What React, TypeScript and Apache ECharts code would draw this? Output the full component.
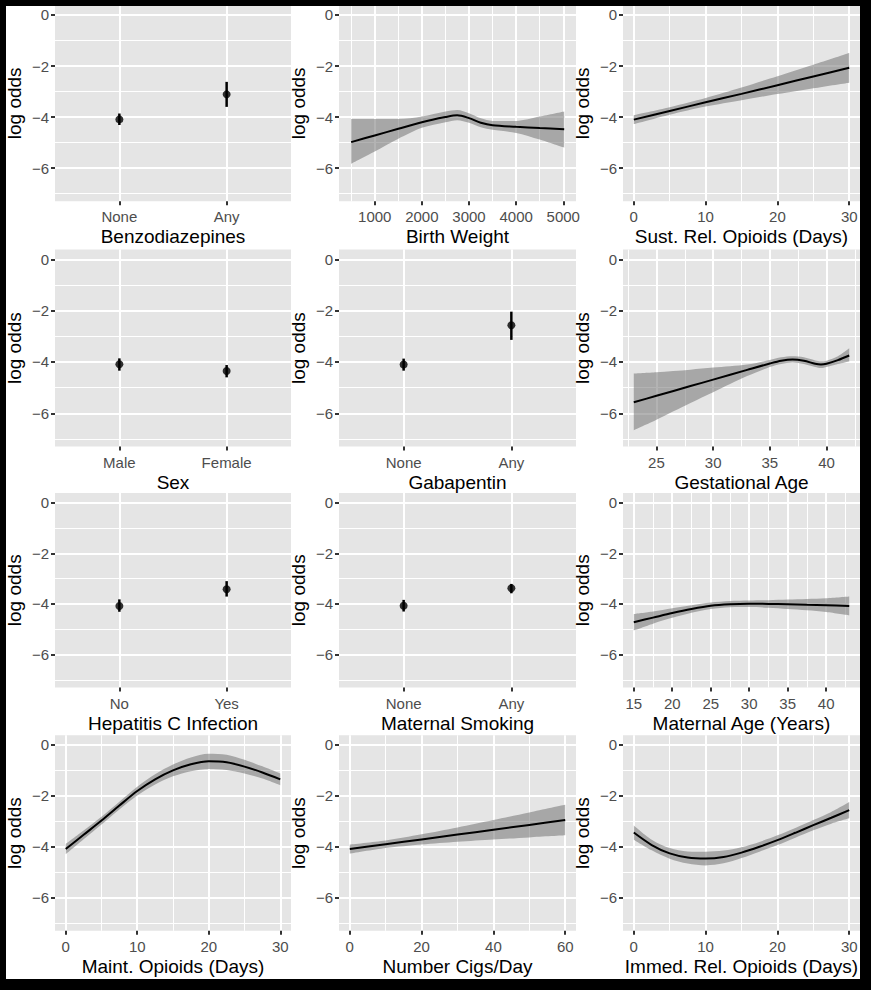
import React, { useEffect, useRef } from "react";
import * as echarts from "echarts";

const FONT = "'Liberation Sans', Arial, Helvetica, sans-serif";

// y scale shared by every panel
const yMajorTicks = [-6, -4, -2, 0];
const yMinorTicks = [-7, -5, -3, -1];
const yMin = -7.3;
const yMax = 0.38;

// ---------- categorical panels ----------
const benzoCats = ["None", "Any"];
const benzoEst = [-4.09, -3.11];
const benzoLo = [-4.31, -3.6];
const benzoHi = [-3.86, -2.62];

const sexCats = ["Male", "Female"];
const sexEst = [-4.09, -4.35];
const sexLo = [-4.34, -4.6];
const sexHi = [-3.86, -4.12];

const gabaCats = ["None", "Any"];
const gabaEst = [-4.1, -2.57];
const gabaLo = [-4.34, -3.14];
const gabaHi = [-3.87, -2.04];

const hepCats = ["No", "Yes"];
const hepEst = [-4.08, -3.42];
const hepLo = [-4.31, -3.71];
const hepHi = [-3.82, -3.1];

const smokeCats = ["None", "Any"];
const smokeEst = [-4.07, -3.38];
const smokeLo = [-4.3, -3.58];
const smokeHi = [-3.84, -3.21];

// ---------- continuous panels ----------
const bwX = [500, 1000, 1500, 2000, 2500, 2750, 3000, 3250, 3500, 4000, 4500, 5020];
const bwFit = [-4.98, -4.72, -4.46, -4.2, -4.0, -3.93, -4.04, -4.22, -4.32, -4.38, -4.43, -4.48];
const bwLo = [-5.83, -5.35, -4.85, -4.42, -4.2, -4.12, -4.22, -4.4, -4.5, -4.62, -4.88, -5.2];
const bwHi = [-4.08, -4.08, -4.08, -3.98, -3.78, -3.72, -3.85, -4.05, -4.15, -4.15, -3.98, -3.78];
const bwMajor = [1000, 2000, 3000, 4000, 5000];
const bwMinor = [500, 1500, 2500, 3500, 4500];

const srX = [0, 5, 10, 15, 20, 25, 30];
const srFit = [-4.1, -3.76, -3.42, -3.09, -2.75, -2.41, -2.07];
const srLo = [-4.28, -3.91, -3.59, -3.34, -3.1, -2.87, -2.65];
const srHi = [-3.92, -3.61, -3.25, -2.84, -2.4, -1.95, -1.49];

const gaX = [23, 25, 28, 30, 33, 35, 36, 37, 38, 39, 39.5, 40, 41, 42];
const gaFit = [-5.57, -5.32, -4.94, -4.69, -4.31, -4.06, -3.95, -3.9, -3.95, -4.07, -4.1, -4.07, -3.93, -3.75];
const gaLo = [-6.66, -6.25, -5.6, -5.18, -4.55, -4.2, -4.08, -4.02, -4.08, -4.2, -4.24, -4.2, -4.08, -3.98];
const gaHi = [-4.45, -4.4, -4.3, -4.22, -4.1, -3.92, -3.82, -3.78, -3.82, -3.94, -3.97, -3.95, -3.78, -3.47];
const gaMajor = [25, 30, 35, 40];
const gaMinor = [22.5, 27.5, 32.5, 37.5, 42.5];

const maX = [15, 17.5, 20, 22.5, 25, 27.5, 30, 32.5, 35, 37.5, 40, 43];
const maFit = [-4.72, -4.54, -4.36, -4.2, -4.07, -4.01, -3.99, -4.0, -4.01, -4.03, -4.05, -4.08];
const maLo = [-5.05, -4.78, -4.55, -4.35, -4.2, -4.13, -4.12, -4.15, -4.2, -4.25, -4.32, -4.45];
const maHi = [-4.4, -4.3, -4.17, -4.05, -3.94, -3.88, -3.86, -3.85, -3.83, -3.81, -3.78, -3.71];
const maMajor = [15, 20, 25, 30, 35, 40];
const maMinor = [17.5, 22.5, 27.5, 32.5, 37.5, 42.5];

const moX = [0, 2.5, 5, 7.5, 10, 12.5, 15, 17.5, 20, 22.5, 25, 27.5, 30];
const moFit = [-4.09, -3.53, -2.97, -2.38, -1.81, -1.35, -1.0, -0.76, -0.64, -0.68, -0.85, -1.08, -1.35];
const moLo = [-4.29, -3.7, -3.12, -2.53, -1.98, -1.55, -1.23, -1.03, -0.94, -0.98, -1.12, -1.32, -1.58];
const moHi = [-3.89, -3.36, -2.82, -2.23, -1.64, -1.15, -0.77, -0.49, -0.34, -0.38, -0.58, -0.84, -1.12];

const cgX = [0, 10, 20, 30, 40, 50, 60];
const cgFit = [-4.09, -3.9, -3.71, -3.52, -3.33, -3.14, -2.95];
const cgLo = [-4.27, -4.05, -3.91, -3.8, -3.71, -3.63, -3.55];
const cgHi = [-3.91, -3.75, -3.51, -3.24, -2.95, -2.65, -2.35];
const cgMajor = [0, 20, 40, 60];
const cgMinor = [10, 30, 50];

const irX = [0, 2.5, 5, 7.5, 10, 12.5, 15, 17.5, 20, 22.5, 25, 27.5, 30];
const irFit = [-3.44, -3.93, -4.26, -4.42, -4.46, -4.4, -4.23, -4.0, -3.74, -3.45, -3.15, -2.86, -2.56];
const irLo = [-3.72, -4.14, -4.47, -4.66, -4.73, -4.65, -4.44, -4.19, -3.93, -3.64, -3.35, -3.09, -2.88];
const irHi = [-3.16, -3.72, -4.05, -4.18, -4.19, -4.15, -4.02, -3.81, -3.55, -3.26, -2.95, -2.63, -2.24];

const daysMajor = [0, 10, 20, 30];
const daysMinor = [5, 15, 25];

type Panel =
  | { kind: "cat"; title: string; cats: string[]; est: number[]; lo: number[]; hi: number[] }
  | {
      kind: "cont";
      title: string;
      x: number[];
      fit: number[];
      lo: number[];
      hi: number[];
      min: number;
      max: number;
      major: number[];
      minor: number[];
    };

const panels: Panel[] = [
  { kind: "cat", title: "Benzodiazepines", cats: benzoCats, est: benzoEst, lo: benzoLo, hi: benzoHi },
  { kind: "cont", title: "Birth Weight", x: bwX, fit: bwFit, lo: bwLo, hi: bwHi, min: 242, max: 5270, major: bwMajor, minor: bwMinor },
  { kind: "cont", title: "Sust. Rel. Opioids (Days)", x: srX, fit: srFit, lo: srLo, hi: srHi, min: -1.5, max: 31.5, major: daysMajor, minor: daysMinor },
  { kind: "cat", title: "Sex", cats: sexCats, est: sexEst, lo: sexLo, hi: sexHi },
  { kind: "cat", title: "Gabapentin", cats: gabaCats, est: gabaEst, lo: gabaLo, hi: gabaHi },
  { kind: "cont", title: "Gestational Age", x: gaX, fit: gaFit, lo: gaLo, hi: gaHi, min: 22.05, max: 42.95, major: gaMajor, minor: gaMinor },
  { kind: "cat", title: "Hepatitis C Infection", cats: hepCats, est: hepEst, lo: hepLo, hi: hepHi },
  { kind: "cat", title: "Maternal Smoking", cats: smokeCats, est: smokeEst, lo: smokeLo, hi: smokeHi },
  { kind: "cont", title: "Maternal Age (Years)", x: maX, fit: maFit, lo: maLo, hi: maHi, min: 13.6, max: 44.4, major: maMajor, minor: maMinor },
  { kind: "cont", title: "Maint. Opioids (Days)", x: moX, fit: moFit, lo: moLo, hi: moHi, min: -1.5, max: 31.5, major: daysMajor, minor: daysMinor },
  { kind: "cont", title: "Number Cigs/Day", x: cgX, fit: cgFit, lo: cgLo, hi: cgHi, min: -3, max: 63, major: cgMajor, minor: cgMinor },
  { kind: "cont", title: "Immed. Rel. Opioids (Days)", x: irX, fit: irFit, lo: irLo, hi: irHi, min: -1.5, max: 31.5, major: daysMajor, minor: daysMinor },
];

// layout
const colLeft = [55, 339, 623];
const colWidth = [236, 237, 237];
const rowTop = [5.3, 249.6, 493, 735.3];
const rowHeight = [196, 197, 194.5, 195.5];

const PANEL_BG = "#e5e5e5";
const BAND = "rgba(110,110,110,0.52)";
const TICK_COLOR = "#333333";
const LABEL_COLOR = "#4d4d4d";
const SMOOTH = 0.3;

const fmtNum = (v: number) => (v < 0 ? "\u2212" + Math.abs(v) : String(v));

function buildOption() {
  const grid: any[] = [];
  const xAxis: any[] = [];
  const yAxis: any[] = [];
  const series: any[] = [];

  panels.forEach((p, i) => {
    const r = Math.floor(i / 3);
    const c = i % 3;
    grid.push({
      left: colLeft[c],
      top: rowTop[r],
      width: colWidth[c],
      height: rowHeight[r],
      show: true,
      backgroundColor: PANEL_BG,
      borderWidth: 0,
      containLabel: false,
    });

    const isCat = p.kind === "cat";
    const xmin = isCat ? 0.4 : (p as any).min;
    const xmax = isCat ? 2.6 : (p as any).max;
    const major = isCat ? [1, 2] : (p as any).major;
    const minor = isCat ? [] : (p as any).minor;
    const formatter = isCat
      ? (v: number) => (p as any).cats[Math.round(v) - 1] ?? ""
      : (v: number) => fmtNum(v);

    // major x (first, so it sits at the bottom)
    xAxis.push({
      type: "value",
      gridIndex: i,
      min: xmin,
      max: xmax,
      position: "bottom",
      name: p.title,
      nameLocation: "middle",
      nameGap: 26,
      nameTextStyle: { color: "#000000", fontSize: 19, fontFamily: FONT },
      axisLine: { show: true, onZero: false, lineStyle: { color: "rgba(0,0,0,0)", width: 0 } },
      axisTick: { show: true, inside: false, length: 4, customValues: major, lineStyle: { color: TICK_COLOR, width: 2 } },
      axisLabel: { show: true, customValues: major, formatter, color: LABEL_COLOR, fontSize: 15, margin: 8, fontFamily: FONT },
      splitLine: { show: true, lineStyle: { color: "#ffffff", width: 2 } },
    });
    // minor x (grid lines only)
    xAxis.push({
      type: "value",
      gridIndex: i,
      min: xmin,
      max: xmax,
      show: !isCat,
      position: "top",
      axisLine: { show: false, onZero: false },
      axisTick: { show: false, customValues: minor },
      axisLabel: { show: false, customValues: minor },
      splitLine: { show: true, lineStyle: { color: "#ffffff", width: 1 } },
    });
    // major y
    yAxis.push({
      type: "value",
      gridIndex: i,
      min: yMin,
      max: yMax,
      position: "left",
      name: "log odds",
      nameLocation: "middle",
      nameRotate: 90,
      nameGap: 31,
      nameTextStyle: { color: "#000000", fontSize: 19, fontFamily: FONT },
      axisLine: { show: false, onZero: false },
      axisTick: { show: true, length: 4, customValues: yMajorTicks, lineStyle: { color: TICK_COLOR, width: 2 } },
      axisLabel: { show: true, customValues: yMajorTicks, formatter: fmtNum, color: LABEL_COLOR, fontSize: 15, margin: 6, fontFamily: FONT },
      splitLine: { show: true, lineStyle: { color: "#ffffff", width: 2 } },
    });
    // minor y
    yAxis.push({
      type: "value",
      gridIndex: i,
      min: yMin,
      max: yMax,
      position: "right",
      axisLine: { show: false, onZero: false },
      axisTick: { show: false, customValues: yMinorTicks },
      axisLabel: { show: false, customValues: yMinorTicks },
      splitLine: { show: true, lineStyle: { color: "#ffffff", width: 1 } },
    });

    const xi = 2 * i;
    const yi = 2 * i;

    if (p.kind === "cat") {
      series.push({
        type: "custom",
        xAxisIndex: xi,
        yAxisIndex: yi,
        data: p.est.map((_, k) => [k + 1, p.lo[k], p.hi[k]]),
        encode: { x: 0, y: [1, 2] },
        renderItem: (params: any, api: any) => {
          const a = api.coord([api.value(0), api.value(1)]);
          const b = api.coord([api.value(0), api.value(2)]);
          return {
            type: "line",
            shape: { x1: a[0], y1: a[1], x2: b[0], y2: b[1] },
            style: { stroke: "#000000", lineWidth: 2.5 },
          };
        },
        z: 3,
      });
      series.push({
        type: "scatter",
        xAxisIndex: xi,
        yAxisIndex: yi,
        data: p.est.map((e, k) => [k + 1, e]),
        symbol: "circle",
        symbolSize: 8,
        itemStyle: { color: "#000000" },
        z: 4,
      });
    } else {
      const stackId = "band" + i;
      // data given as [y, x] so that the stacked dimension is the y value
      series.push({
        type: "line",
        xAxisIndex: xi,
        yAxisIndex: yi,
        stack: stackId,
        stackStrategy: "all",
        encode: { x: 1, y: 0 },
        data: p.x.map((v, k) => [p.lo[k], v]),
        symbol: "none",
        smooth: SMOOTH,
        lineStyle: { opacity: 0 },
        z: 2,
      });
      series.push({
        type: "line",
        xAxisIndex: xi,
        yAxisIndex: yi,
        stack: stackId,
        stackStrategy: "all",
        encode: { x: 1, y: 0 },
        data: p.x.map((v, k) => [+(p.hi[k] - p.lo[k]).toFixed(4), v]),
        symbol: "none",
        smooth: SMOOTH,
        lineStyle: { opacity: 0 },
        areaStyle: { color: BAND, opacity: 1 },
        z: 2,
      });
      series.push({
        type: "line",
        xAxisIndex: xi,
        yAxisIndex: yi,
        data: p.x.map((v, k) => [v, p.fit[k]]),
        symbol: "none",
        smooth: SMOOTH,
        lineStyle: { color: "#000000", width: 2 },
        z: 3,
      });
    }
  });

  const graphic = [
    { type: "rect", shape: { x: 0, y: 0, width: 871, height: 6 }, style: { fill: "#000" }, z: 100 },
    { type: "rect", shape: { x: 0, y: 0, width: 6, height: 990 }, style: { fill: "#000" }, z: 100 },
    { type: "rect", shape: { x: 860, y: 0, width: 11, height: 990 }, style: { fill: "#000" }, z: 100 },
    { type: "rect", shape: { x: 0, y: 979, width: 871, height: 11 }, style: { fill: "#000" }, z: 100 },
  ];

  return {
    animation: false,
    backgroundColor: "#ffffff",
    textStyle: { fontFamily: FONT },
    grid,
    xAxis,
    yAxis,
    series,
    graphic,
  };
}

export default function App() {
  const ref = useRef<HTMLDivElement>(null);
  useEffect(() => {
    document.body.style.margin = "0";
    if (!ref.current) return;
    const chart = echarts.init(ref.current, undefined, { renderer: "svg" });
    chart.setOption(buildOption() as any);
    return () => chart.dispose();
  }, []);
  return <div ref={ref} style={{ width: 871, height: 990 }} />;
}
